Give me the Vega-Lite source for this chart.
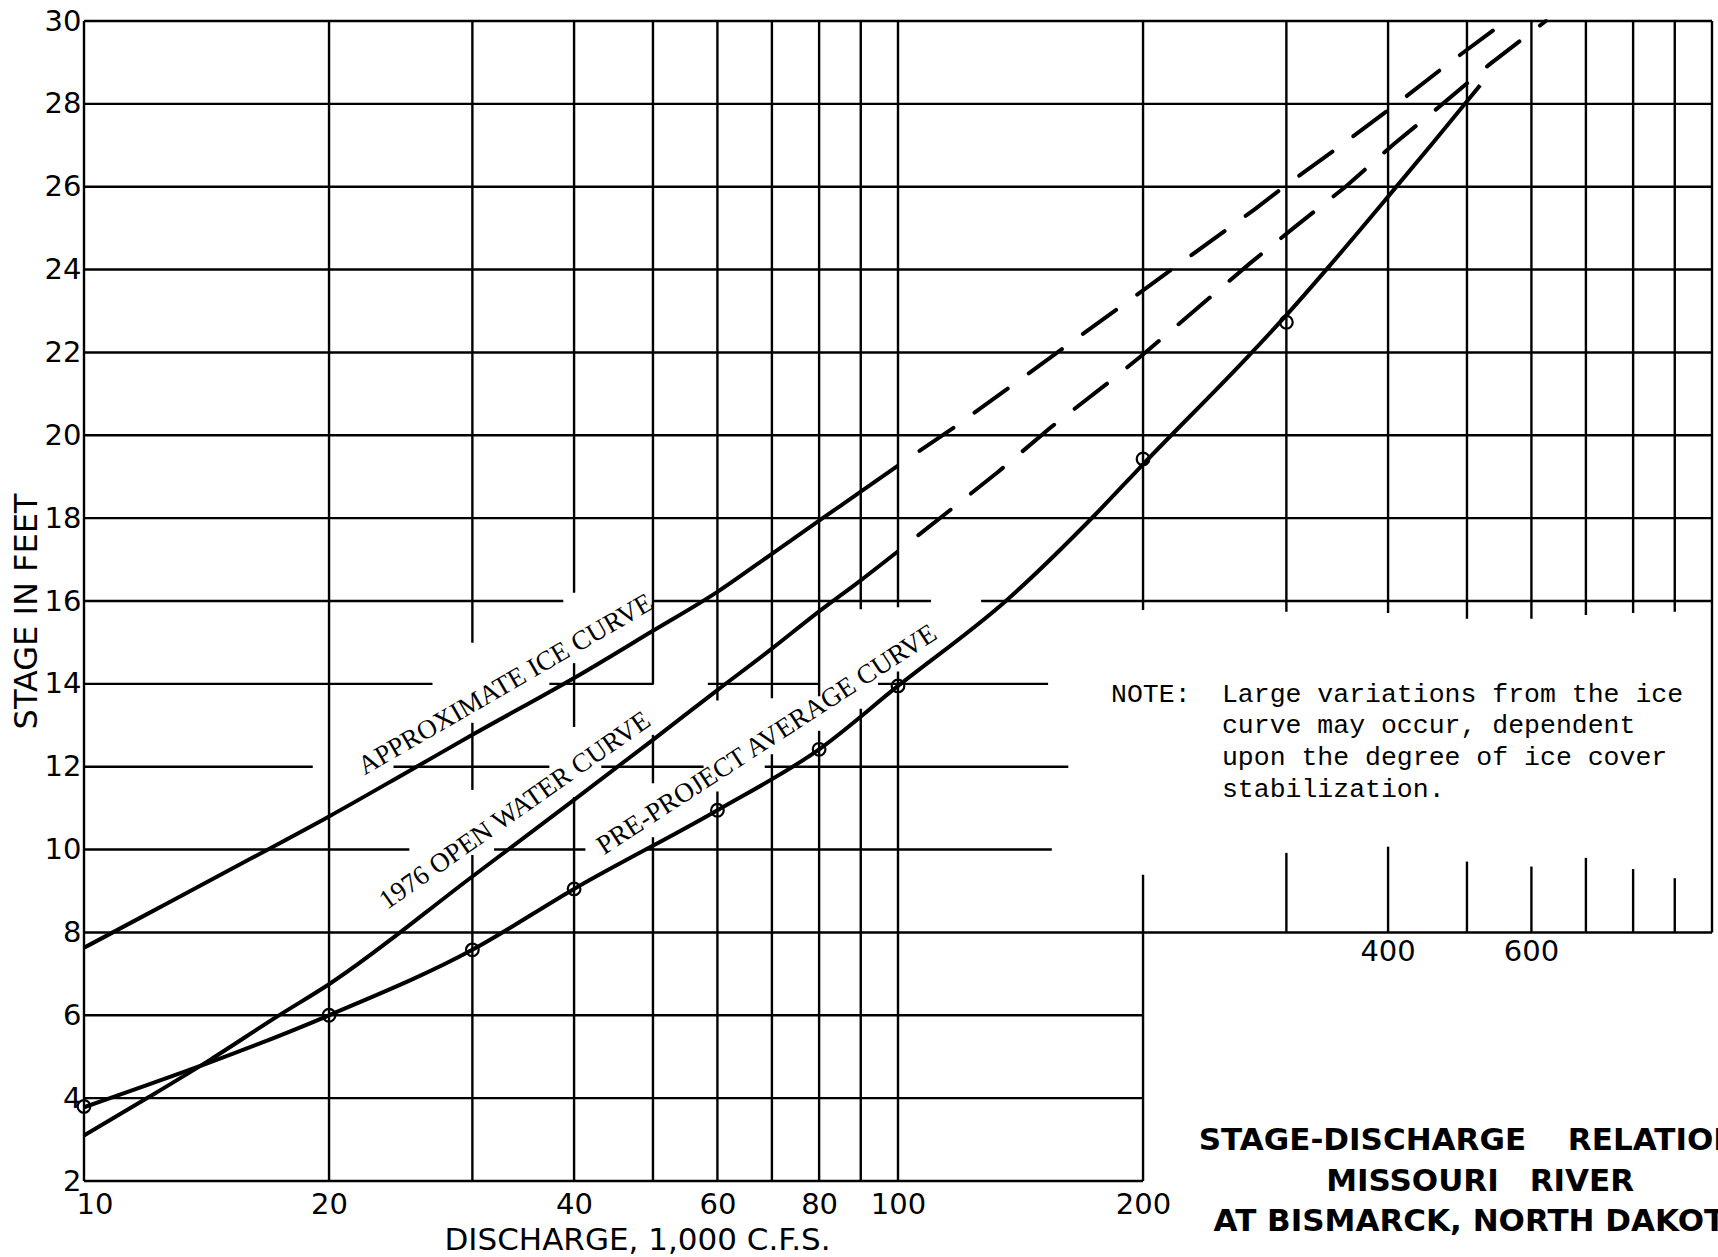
{
  "$schema": "https://vega.github.io/schema/vega-lite/v6.json",
  "width": 1628,
  "height": 1160,
  "autosize": {"type": "none"},
  "padding": {"left": 84, "top": 21, "right": 6, "bottom": 76},
  "background": "white",
  "config": {"view": {"stroke": null}, "font": "DejaVu Sans"},
  "datasets": {
    "hgrid": [
      {"s": 30, "q": 10, "q2": 1000},
      {"s": 28, "q": 10, "q2": 1000},
      {"s": 26, "q": 10, "q2": 1000},
      {"s": 24, "q": 10, "q2": 1000},
      {"s": 22, "q": 10, "q2": 1000},
      {"s": 20, "q": 10, "q2": 1000},
      {"s": 18, "q": 10, "q2": 1000},
      {"s": 16, "q": 10, "q2": 38.8},
      {"s": 16, "q": 50.1, "q2": 109.8},
      {"s": 16, "q": 126.5, "q2": 1000},
      {"s": 14, "q": 10, "q2": 26.8},
      {"s": 14, "q": 37.3, "q2": 50.1},
      {"s": 14, "q": 58.4, "q2": 80.2},
      {"s": 14, "q": 94.5, "q2": 152.9},
      {"s": 12, "q": 10, "q2": 19.1},
      {"s": 12, "q": 24, "q2": 37.3},
      {"s": 12, "q": 43.2, "q2": 57.7},
      {"s": 12, "q": 68.6, "q2": 161.9},
      {"s": 10, "q": 10, "q2": 25.1},
      {"s": 10, "q": 31.9, "q2": 41.3},
      {"s": 10, "q": 49, "q2": 154.5},
      {"s": 8, "q": 10, "q2": 1000},
      {"s": 6, "q": 10, "q2": 200},
      {"s": 4, "q": 10, "q2": 200},
      {"s": 2, "q": 10, "q2": 200}
    ],
    "vgrid": [
      {"q": 10, "s": 2, "s2": 30},
      {"q": 20, "s": 2, "s2": 30},
      {"q": 30, "s": 2, "s2": 9.87},
      {"q": 30, "s": 11.44, "s2": 13.06},
      {"q": 30, "s": 14.99, "s2": 30},
      {"q": 40, "s": 2, "s2": 11.27},
      {"q": 40, "s": 12.96, "s2": 14.5},
      {"q": 40, "s": 16.2, "s2": 30},
      {"q": 50, "s": 2, "s2": 10.3},
      {"q": 50, "s": 11.6, "s2": 12.77},
      {"q": 50, "s": 14, "s2": 30},
      {"q": 60, "s": 2, "s2": 11.4},
      {"q": 60, "s": 13.6, "s2": 30},
      {"q": 70, "s": 2, "s2": 12.3},
      {"q": 70, "s": 13.65, "s2": 30},
      {"q": 80, "s": 2, "s2": 12.87},
      {"q": 80, "s": 13.7, "s2": 30},
      {"q": 90, "s": 2, "s2": 13.4},
      {"q": 90, "s": 15.8, "s2": 30},
      {"q": 100, "s": 2, "s2": 14.3},
      {"q": 100, "s": 15.85, "s2": 30},
      {"q": 200, "s": 2, "s2": 9.39},
      {"q": 200, "s": 15.78, "s2": 30},
      {"q": 300, "s": 8, "s2": 9.92},
      {"q": 300, "s": 15.74, "s2": 30},
      {"q": 400, "s": 8, "s2": 10.07},
      {"q": 400, "s": 15.71, "s2": 30},
      {"q": 500, "s": 8, "s2": 9.71},
      {"q": 500, "s": 15.57, "s2": 30},
      {"q": 600, "s": 8, "s2": 9.59},
      {"q": 600, "s": 15.57, "s2": 30},
      {"q": 700, "s": 8, "s2": 9.8},
      {"q": 700, "s": 15.66, "s2": 30},
      {"q": 800, "s": 8, "s2": 9.53},
      {"q": 800, "s": 15.71, "s2": 30},
      {"q": 900, "s": 8, "s2": 9.31},
      {"q": 900, "s": 15.74, "s2": 30},
      {"q": 1000, "s": 8, "s2": 30}
    ],
    "solid": [
      {"curve": "ice", "q": 10, "s": 7.63},
      {"curve": "ice", "q": 12, "s": 8.46},
      {"curve": "ice", "q": 16.45, "s": 9.9},
      {"curve": "ice", "q": 20, "s": 10.8},
      {"curve": "ice", "q": 25, "s": 11.88},
      {"curve": "ice", "q": 30, "s": 12.77},
      {"curve": "ice", "q": 40, "s": 14.14},
      {"curve": "ice", "q": 50, "s": 15.28},
      {"curve": "ice", "q": 60, "s": 16.22},
      {"curve": "ice", "q": 70, "s": 17.14},
      {"curve": "ice", "q": 80, "s": 17.94},
      {"curve": "ice", "q": 90, "s": 18.64},
      {"curve": "ice", "q": 100, "s": 19.27},
      {"curve": "open", "q": 10, "s": 3.1},
      {"curve": "open", "q": 12, "s": 4.02},
      {"curve": "open", "q": 14.3, "s": 4.93},
      {"curve": "open", "q": 17.3, "s": 5.98},
      {"curve": "open", "q": 20, "s": 6.75},
      {"curve": "open", "q": 30, "s": 9.35},
      {"curve": "open", "q": 40, "s": 11.2},
      {"curve": "open", "q": 50, "s": 12.65},
      {"curve": "open", "q": 60, "s": 13.85},
      {"curve": "open", "q": 70, "s": 14.85},
      {"curve": "open", "q": 80, "s": 15.75},
      {"curve": "open", "q": 90, "s": 16.5},
      {"curve": "open", "q": 100, "s": 17.2},
      {"curve": "pre", "q": 10, "s": 3.78},
      {"curve": "pre", "q": 20, "s": 6.0},
      {"curve": "pre", "q": 30, "s": 7.58},
      {"curve": "pre", "q": 40, "s": 9.05},
      {"curve": "pre", "q": 60, "s": 10.95},
      {"curve": "pre", "q": 80, "s": 12.42},
      {"curve": "pre", "q": 100, "s": 13.95},
      {"curve": "pre", "q": 136, "s": 16.02},
      {"curve": "pre", "q": 175, "s": 18.1},
      {"curve": "pre", "q": 200, "s": 19.3},
      {"curve": "pre", "q": 270, "s": 21.93},
      {"curve": "pre", "q": 300, "s": 22.9},
      {"curve": "pre", "q": 340, "s": 24.12},
      {"curve": "pre", "q": 400, "s": 25.76},
      {"curve": "pre", "q": 455, "s": 27.08},
      {"curve": "pre", "q": 519, "s": 28.45}
    ],
    "dashed": [
      {"curve": "ice", "q": 100, "s": 19.27},
      {"curve": "ice", "q": 117, "s": 20.18},
      {"curve": "ice", "q": 138, "s": 21.2},
      {"curve": "ice", "q": 200, "s": 23.5},
      {"curve": "ice", "q": 274.5, "s": 25.46},
      {"curve": "ice", "q": 300, "s": 26.04},
      {"curve": "ice", "q": 352, "s": 27.03},
      {"curve": "ice", "q": 408, "s": 27.97},
      {"curve": "ice", "q": 475, "s": 28.98},
      {"curve": "ice", "q": 558, "s": 30},
      {"curve": "open", "q": 100, "s": 17.2},
      {"curve": "open", "q": 114.8, "s": 18.13},
      {"curve": "open", "q": 132.8, "s": 19.12},
      {"curve": "open", "q": 154.5, "s": 20.21},
      {"curve": "open", "q": 182.9, "s": 21.33},
      {"curve": "open", "q": 200, "s": 21.95},
      {"curve": "open", "q": 270.6, "s": 24.15},
      {"curve": "open", "q": 306, "s": 25.0},
      {"curve": "open", "q": 354.7, "s": 26.0},
      {"curve": "open", "q": 406, "s": 27.02},
      {"curve": "open", "q": 452, "s": 27.77},
      {"curve": "open", "q": 532, "s": 28.94},
      {"curve": "open", "q": 625, "s": 30}
    ],
    "observed": [
      {"q": 10, "s": 3.8},
      {"q": 20, "s": 6.0},
      {"q": 30, "s": 7.58},
      {"q": 40, "s": 9.05},
      {"q": 60, "s": 10.95},
      {"q": 80, "s": 12.42},
      {"q": 100, "s": 13.95},
      {"q": 200, "s": 19.43},
      {"q": 300, "s": 22.73}
    ]
  },
  "encoding": {
    "x": {
      "field": "q",
      "type": "quantitative",
      "scale": {"type": "log", "domain": [10, 1000], "nice": false},
      "axis": {
        "values": [10, 20, 40, 60, 80, 100, 200],
        "format": "d",
        "title": "DISCHARGE, 1,000 C.F.S.",
        "domain": false,
        "ticks": false,
        "grid": false,
        "labelFlush": true,
        "labelFlushOffset": 8,
        "labelOverlap": false,
        "labelPadding": 9,
        "labelFont": "DejaVu Sans",
        "labelFontSize": 29,
        "labelColor": "#000000",
        "titleFont": "DejaVu Sans",
        "titleFontSize": 31,
        "titleFontWeight": "normal",
        "titleColor": "#000000",
        "titleX": 553,
        "titleY": 68,
        "titleAlign": "center",
        "titleBaseline": "alphabetic"
      }
    },
    "y": {
      "field": "s",
      "type": "quantitative",
      "scale": {"domain": [2, 30], "nice": false, "zero": false},
      "axis": {
        "values": [2, 4, 6, 8, 10, 12, 14, 16, 18, 20, 22, 24, 26, 28, 30],
        "format": "d",
        "title": "STAGE IN FEET",
        "domain": false,
        "ticks": false,
        "grid": false,
        "labelOverlap": false,
        "labelPadding": 3,
        "labelFont": "DejaVu Sans",
        "labelFontSize": 29,
        "labelColor": "#000000",
        "titleFont": "DejaVu Sans",
        "titleFontSize": 32,
        "titleFontWeight": "normal",
        "titleColor": "#000000",
        "titleAngle": 270,
        "titleX": -48,
        "titleY": 590,
        "titleAlign": "center",
        "titleBaseline": "alphabetic"
      }
    }
  },
  "layer": [
    {
      "data": {"name": "hgrid"},
      "mark": {"type": "rule", "color": "#000000", "strokeWidth": 2.4},
      "encoding": {"x2": {"field": "q2"}}
    },
    {
      "data": {"name": "vgrid"},
      "mark": {"type": "rule", "color": "#000000", "strokeWidth": 2.4},
      "encoding": {"y2": {"field": "s2"}}
    },
    {
      "data": {"name": "solid"},
      "mark": {"type": "line", "color": "#000000", "strokeWidth": 4, "interpolate": "monotone", "strokeCap": "butt"},
      "encoding": {"detail": {"field": "curve"}}
    },
    {
      "data": {"name": "dashed"},
      "mark": {"type": "line", "color": "#000000", "strokeWidth": 4, "strokeCap": "round", "strokeDash": [41, 26], "strokeDashOffset": 41},
      "encoding": {"detail": {"field": "curve"}}
    },
    {
      "data": {"name": "observed"},
      "mark": {"type": "point", "shape": "circle", "filled": false, "color": "#000000", "size": 160, "strokeWidth": 2.2, "opacity": 1}
    },
    {
      "data": {"values": [{"q": 32.96, "s": 13.98, "label": "APPROXIMATE ICE CURVE"}]},
      "mark": {"type": "text", "font": "Liberation Serif", "fontSize": 27, "angle": -30, "align": "center", "baseline": "middle", "color": "#000000"},
      "encoding": {"text": {"field": "label"}}
    },
    {
      "data": {"values": [{"q": 33.85, "s": 10.94, "label": "1976 OPEN WATER CURVE"}]},
      "mark": {"type": "text", "font": "Liberation Serif", "fontSize": 27, "angle": -35, "align": "center", "baseline": "middle", "color": "#000000"},
      "encoding": {"text": {"field": "label"}}
    },
    {
      "data": {"values": [{"q": 69, "s": 12.65, "label": "PRE-PROJECT AVERAGE CURVE"}]},
      "mark": {"type": "text", "font": "Liberation Serif", "fontSize": 27, "angle": -33, "align": "center", "baseline": "middle", "color": "#000000"},
      "encoding": {"text": {"field": "label"}}
    },
    {
      "data": {"values": [
        {"q": 182.7, "s": 13.57, "label": "NOTE:"},
        {"q": 250, "s": 13.57, "label": "Large variations from the ice"},
        {"q": 250, "s": 12.81, "label": "curve may occur, dependent"},
        {"q": 250, "s": 12.04, "label": "upon the degree of ice cover"},
        {"q": 250, "s": 11.28, "label": "stabilization."}
      ]},
      "mark": {"type": "text", "font": "Liberation Mono", "fontSize": 26.5, "align": "left", "baseline": "alphabetic", "color": "#000000"},
      "encoding": {"text": {"field": "label"}}
    },
    {
      "data": {"values": [
        {"q": 400, "s": 7.86, "label": "400"},
        {"q": 600, "s": 7.86, "label": "600"}
      ]},
      "mark": {"type": "text", "font": "DejaVu Sans", "fontSize": 29, "align": "center", "baseline": "top", "color": "#000000"},
      "encoding": {"text": {"field": "label"}}
    },
    {
      "data": {"values": [
        {"q": 519, "s": 2.75, "label": "STAGE-DISCHARGE\u2003 RELATIONS"},
        {"q": 519, "s": 1.77, "label": "MISSOURI\u2003RIVER"},
        {"q": 519, "s": 0.79, "label": "AT BISMARCK, NORTH DAKOTA"}
      ]},
      "mark": {"type": "text", "font": "DejaVu Sans", "fontWeight": "bold", "fontSize": 31, "align": "center", "baseline": "alphabetic", "color": "#000000"},
      "encoding": {"text": {"field": "label"}}
    }
  ]
}
